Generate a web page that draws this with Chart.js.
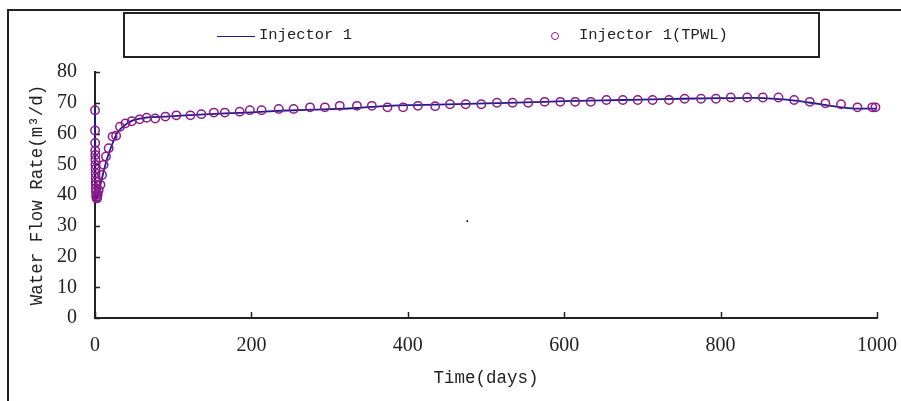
<!DOCTYPE html>
<html>
<head>
<meta charset="utf-8">
<script src="https://cdn.jsdelivr.net/npm/chart.js@4.4.1/dist/chart.umd.min.js"></script>
<style>
    html, body { margin: 0; padding: 0; background: #fff; overflow: hidden; }
    #wrap { position: relative; width: 901px; height: 401px; }
    #chart { position: absolute; left: 0; top: 0; }
    .frame { position: absolute; left: 7px; top: 9px; width: 1000px; height: 500px; border-left: 2px solid #222; border-top: 2px solid #222; }
    .legend { position: absolute; left: 123px; top: 12px; width: 693px; height: 42px; border: 2px solid #222; font-family: "Liberation Mono", monospace; font-size: 15.5px; color: #222; }
    .legend span { position: absolute; top: 12px; white-space: nowrap; }
    .legend .ln { position: absolute; left: 92px; top: 22px; width: 38px; border-top: 1.5px solid #1c1c8a; }
    .legend .mk { position: absolute; left: 426px; top: 18px; width: 6px; height: 6px; border: 1.5px solid #8b1a8b; border-radius: 50%; }
</style>
</head>
<body>
<div id="wrap">
    <canvas id="chart" width="901" height="401"></canvas>
    <div class="frame"></div>
    <div class="legend">
        <div class="ln"></div><span style="left:134px">Injector 1</span>
        <div class="mk"></div><span style="left:454px">Injector 1(TPWL)</span>
    </div>
</div>
<script>
    // simulated rate (solid line)
    const lineDays = [0, 0.3, 1, 2.5, 5, 9, 15, 22, 28, 37, 47, 66, 90, 110, 140, 173, 200, 237, 270, 300, 335, 364, 400, 450, 500, 550, 600, 650, 700, 750, 800, 840, 875, 895, 915, 935, 955, 975, 1000];
    const lineRate = [68, 55, 40, 38.8, 41.3, 45.5, 51.5, 56.5, 60, 62.5, 64.1, 65.2, 65.5, 65.8, 66.2, 66.6, 66.9, 67.4, 67.7, 67.9, 68.3, 68.8, 69.2, 69.5, 69.8, 70.1, 70.5, 70.8, 71.0, 71.3, 71.5, 71.6, 71.2, 70.7, 70.0, 69.2, 68.5, 68.1, 68.1];

    // TPWL result (circles)
    const tpwlDays = [0, 0.1, 0.2, 0.3, 0.4, 0.5, 0.6, 0.7, 0.8, 0.9, 1.0, 1.1, 1.2, 1.3, 1.5, 1.8, 2.2, 2.6, 3, 3.5,
        4.7, 7, 9, 11, 14, 17.5, 22.5, 27, 32, 39, 47, 57, 66, 77, 90, 104, 122, 136, 152, 166, 185, 198, 213, 235, 254, 275, 294, 313, 335, 354,
        374, 394, 413, 435, 454, 474, 494, 514, 534, 554, 575, 595, 614, 634, 654, 675, 694, 713, 734, 754, 775, 794, 813, 834, 854, 874, 894, 914, 934, 954, 975, 994, 998];
    const tpwlRate = [67.6, 61, 56.9, 54.5, 53, 51.5, 49.8, 48.5, 47, 45.6, 44.3, 43.3, 42.2, 41.1, 40, 39.2, 38.9, 39.0, 39.6, 40.3,
        41.6, 43.3, 46.5, 49.8, 52.5, 55.2, 59, 59.3, 62.2, 63.3, 64.0, 64.6, 65.1, 64.9, 65.5, 65.9, 65.9, 66.3, 66.8, 66.8, 67.1, 67.6, 67.6, 68.0, 68.0, 68.5, 68.5, 69.0, 69.0, 69.0,
        68.5, 68.5, 69.0, 68.9, 69.5, 69.5, 69.5, 70.0, 70.0, 70.0, 70.3, 70.3, 70.3, 70.3, 70.9, 70.9, 70.9, 70.9, 70.9, 71.3, 71.3, 71.3, 71.7, 71.7, 71.7, 71.7, 70.9, 70.3, 69.8, 69.5, 68.5, 68.5, 68.5];

    // stray dot in the plot
    const strayDays = [476];
    const strayRate = [31.5];

    const xTicks = [0, 200, 400, 600, 800, 1000];
    const yTicks = [0, 10, 20, 30, 40, 50, 60, 70, 80];

    const toPts = (xs, ys) => xs.map((d, i) => ({ x: d, y: ys[i] }));

    const innerTicks = {
        id: 'innerTicks',
        beforeDatasetsDraw(chart) {
            const { ctx, chartArea, scales: { x, y } } = chart;
            ctx.save();
            ctx.strokeStyle = '#222';
            ctx.lineWidth = 1.5;
            ctx.beginPath();
            yTicks.forEach(v => { const py = Math.round(y.getPixelForValue(v)) + 0.5; ctx.moveTo(chartArea.left, py); ctx.lineTo(chartArea.left + 5, py); });
            xTicks.forEach(v => { const px = Math.round(x.getPixelForValue(v)) + 0.5; ctx.moveTo(px, chartArea.bottom); ctx.lineTo(px, chartArea.bottom - 6); });
            ctx.stroke();
            ctx.restore();
        }
    };

    const tickFont = { family: '"Liberation Serif", serif', size: 20 };
    const titleFont = { family: '"Liberation Mono", monospace', size: 17.5 };

    new Chart(document.getElementById('chart'), {
        type: 'scatter',
        data: {
            datasets: [
                {
                    label: 'Injector 1(TPWL)',
                    data: toPts(tpwlDays, tpwlRate),
                    showLine: false, clip: false,
                    pointStyle: 'circle', pointRadius: 4.2, pointBorderWidth: 1.5,
                    pointBorderColor: '#8b1a8b', pointBackgroundColor: 'rgba(0,0,0,0)'
                },
                {
                    label: 'Injector 1',
                    data: toPts(lineDays, lineRate),
                    showLine: true, clip: false,
                    borderColor: '#1c1c8a', borderWidth: 1.8,
                    pointRadius: 0, cubicInterpolationMode: 'monotone'
                },
                {
                    label: 'dot',
                    data: toPts(strayDays, strayRate),
                    showLine: false,
                    pointStyle: 'rect', pointRadius: 1.2, pointBorderWidth: 0,
                    pointBackgroundColor: '#111'
                }
            ]
        },
        options: {
            responsive: false, animation: false,
            layout: { padding: { left: 0, top: 72, right: 24, bottom: 0 } },
            plugins: { legend: { display: false }, tooltip: { enabled: false } },
            scales: {
                x: {
                    type: 'linear', min: 0, max: 1000,
                    afterBuildTicks: s => { s.ticks = xTicks.map(v => ({ value: v })); },
                    afterFit: s => { s.height = 83; s.paddingLeft = 0; s.paddingRight = 0; },
                    grid: { display: false, drawTicks: false },
                    border: { display: true, color: '#222', width: 2 },
                    ticks: { color: '#222', font: tickFont, padding: 16, maxRotation: 0, callback: v => String(v) },
                    title: { display: true, text: 'Time(days)', color: '#222', font: titleFont, padding: { top: 0, bottom: 12.5 } }
                },
                y: {
                    type: 'linear', min: 0, max: 80,
                    afterBuildTicks: s => { s.ticks = yTicks.map(v => ({ value: v })); },
                    afterFit: s => { s.width = 95; s.paddingTop = 0; s.paddingBottom = 0; },
                    grid: { display: false, drawTicks: false },
                    border: { display: true, color: '#222', width: 2 },
                    ticks: { color: '#222', font: tickFont, padding: 18, callback: v => String(v) },
                    title: { display: true, text: 'Water Flow Rate(m³/d)', color: '#222', font: titleFont, padding: { top: 26.5, bottom: 0 } }
                }
            }
        },
        plugins: [innerTicks]
    });
</script>
</body>
</html>
